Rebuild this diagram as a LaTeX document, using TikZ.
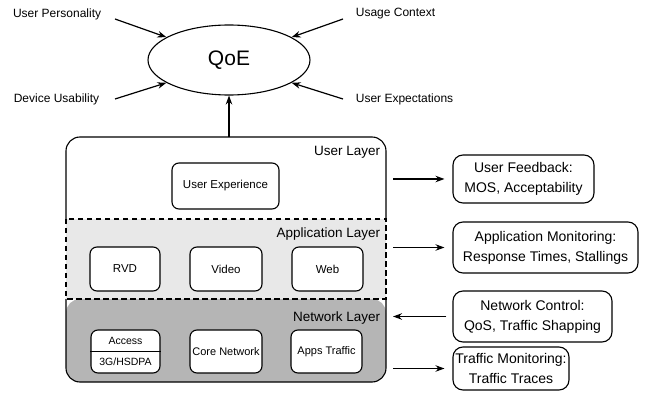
\documentclass[tikz,border=0pt]{standalone}
\usepackage{fontspec}
\setmainfont{Liberation Sans}
\usetikzlibrary{arrows.meta,shapes.geometric}

\tikzset{
  lbl/.style={font=\fontsize{12}{14}\selectfont},
  layerlbl/.style={anchor=east, font=\fontsize{13.5}{16}\selectfont},
  inbox/.style={draw, fill=white, rounded corners=7pt, minimum height=44pt, inner sep=1pt, font=\fontsize{11.5}{14}\selectfont},
  sidebox/.style={draw, rounded corners=10pt, align=center, inner sep=2pt, font=\fontsize{14}{20}\selectfont},
  arr/.style={-{Stealth[length=9pt,width=6.5pt]}, line width=1.2pt}
}

\begin{document}
\begin{tikzpicture}[x=1pt, y=-1pt, line width=1.1pt]
  \useasboundingbox (0,0) rectangle (649,401);

  % QoE and what acts on it
  \node[draw, ellipse, minimum width=162pt, minimum height=70pt, font=\fontsize{21}{24}\selectfont] (qoe) at (229,60) {QoE};
  \node[lbl, anchor=east] (pers) at (105,14) {User Personality};
  \node[lbl, anchor=west] (ctx) at (352,14) {Usage Context};
  \node[lbl, anchor=east] (dev) at (103,99) {Device Usability};
  \node[lbl, anchor=west] (expc) at (352,99) {User Expectations};
  \draw[arr] ([xshift=10pt,yshift=-5pt]pers.east) -- (qoe.160);
  \draw[arr] ([xshift=-9pt,yshift=-5pt]ctx.west) -- (qoe.20);
  \draw[arr] ([xshift=12pt]dev.east) -- (qoe.200);
  \draw[arr] ([xshift=-9pt]expc.west) -- (qoe.340);

  % layers
  \fill[black!29, rounded corners=14pt] (66,299) -- (66,382) -- (386,382) -- (386,299) -- cycle;
  \draw[rounded corners=14pt] (66,299) -- (66,382) -- (386,382) -- (386,299);
  \draw[fill=white, rounded corners=14pt] (66,219) -- (66,137) -- (386,137) -- (386,219);
  \draw[dash pattern=on 5.5pt off 3.5pt, fill=black!9] (66,219) rectangle (386,299);
  \node[layerlbl] (ulay) at (384,152) {User Layer};
  \node[layerlbl] (alay) at (384,234) {Application Layer};
  \node[layerlbl] (nlay) at (384,318) {Network Layer};

  \coordinate (top) at (229,137);
  \draw[arr] (top) -- (qoe.south);

  % boxes in the layers
  \node[inbox, minimum width=107pt, minimum height=46pt] (ux) at (225.5,186) {User Experience};
  \node[inbox, minimum width=70pt] (rvd) at (125,269) {RVD};
  \node[inbox, minimum width=72pt] (vid) at (226,269) {Video};
  \node[inbox, minimum width=71pt] (web) at (327.5,269) {Web};
  \node[inbox, minimum width=69pt, minimum height=43pt] (acc) at (125.5,351.5) {};
  \draw (acc.west) -- (acc.east);
  \node[font=\fontsize{10.5}{12}\selectfont] (acctop) at ([yshift=10.5pt]acc.center) {Access};
  \node[font=\fontsize{10.5}{12}\selectfont] (accbot) at ([yshift=-10.5pt]acc.center) {3G/HSDPA};
  \node[inbox, minimum width=72pt, minimum height=43pt, font=\fontsize{11}{13}\selectfont] (core) at (226,351.5) {Core Network};
  \node[inbox, minimum width=71pt, minimum height=43pt, font=\fontsize{11}{13}\selectfont] (apps) at (326.5,351.5) {Apps Traffic};

  % monitoring and control
  \node[sidebox, minimum width=141pt, minimum height=48pt] (fb) at (523.5,179) {User Feedback:\\MOS, Acceptability};
  \node[sidebox, minimum width=185pt, minimum height=51pt] (appmon) at (545.5,247.5) {Application Monitoring:\\Response Times, Stallings};
  \node[sidebox, minimum width=159pt, minimum height=51pt] (netc) at (532.5,316.5) {Network Control:\\QoS, Traffic Shapping};
  \node[sidebox, minimum width=116pt, minimum height=43pt] (trmon) at (511,368.5) {Traffic Monitoring:\\Traffic Traces};

  \coordinate (ur) at (393,179);
  \coordinate (ar) at (393,247.5);
  \coordinate (nr) at (393,316.5);
  \coordinate (tr) at (393,368.5);
  \draw[arr, shorten >=8pt] (ur) -- (fb.west);
  \draw[arr, shorten >=8pt] (ar) -- (appmon.west);
  \draw[arr, shorten <=6pt] (netc.west) -- (nr);
  \draw[arr, shorten >=8pt] (tr) -- (trmon.west);
\end{tikzpicture}
\end{document}
